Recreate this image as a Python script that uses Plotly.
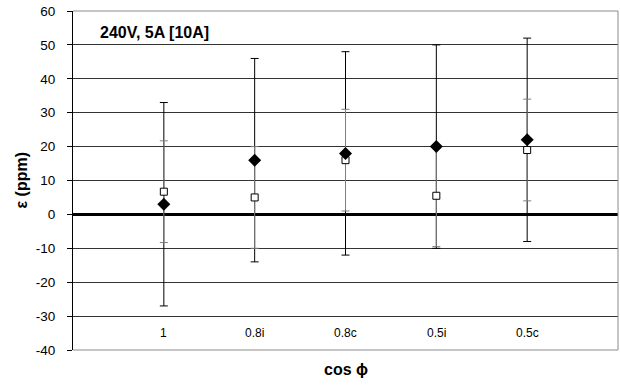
import plotly.graph_objects as go

categories = ["1", "0.8i", "0.8c", "0.5i", "0.5c"]
diamond_vals = [3, 16, 18, 20, 22]
diamond_err = [30, 30, 30, 30, 30]
square_vals = [6.7, 5, 16, 5.5, 19]
square_err = [15, 15, 15, 15, 15]
y_ticks = list(range(-40, 61, 10))
y_ticktext = [str(v) for v in y_ticks]

xpos = list(range(1, len(categories) + 1))

fig = go.Figure()
# error bars (black, then gray on top)
fig.add_trace(go.Scatter(
    x=xpos, y=diamond_vals, mode="markers",
    marker=dict(size=1, color="rgba(0,0,0,0)"),
    error_y=dict(type="data", array=diamond_err, visible=True, color="black", thickness=1, width=4),
    showlegend=False, hoverinfo="skip"))
fig.add_trace(go.Scatter(
    x=xpos, y=square_vals, mode="markers",
    marker=dict(size=1, color="rgba(0,0,0,0)"),
    error_y=dict(type="data", array=square_err, visible=True, color="#7f7f7f", thickness=1, width=4),
    showlegend=False, hoverinfo="skip"))
# markers
fig.add_trace(go.Scatter(
    x=xpos, y=square_vals, mode="markers",
    marker=dict(symbol="square", size=7, color="white", line=dict(color="black", width=1)),
    showlegend=False))
fig.add_trace(go.Scatter(
    x=xpos, y=diamond_vals, mode="markers",
    marker=dict(symbol="diamond", size=10, color="black", line=dict(width=0)),
    showlegend=False))

font = "Liberation Sans, Arial, sans-serif"

annotations = []
for xi, c in zip(xpos, categories):
    annotations.append(dict(x=xi, y=-35, xref="x", yref="y", text=c, showarrow=False,
                            font=dict(size=12, color="black", family=font)))
annotations.append(dict(x=0.046, y=53.8, xref="paper", yref="y", text="<b>240V, 5A [10A]</b>",
                        xanchor="left", yanchor="middle", showarrow=False,
                        font=dict(size=16, color="black", family=font)))
annotations.append(dict(x=-0.113, y=0.5, xref="paper", yref="paper", text="<b>ε (ppm)</b>",
                        textangle=-90, showarrow=False,
                        font=dict(size=16, color="black", family=font)))
annotations.append(dict(x=0.5, y=(350 - 380) / 339, xref="paper", yref="paper", text="<b>cos ϕ</b>",
                        showarrow=False, font=dict(size=16, color="black", family=font)))

fig.update_layout(
    width=620, height=392,
    margin=dict(l=73, r=2, t=11, b=42),
    paper_bgcolor="white", plot_bgcolor="white",
    font=dict(family=font, size=13, color="black"),
    xaxis=dict(range=[0, 6], showticklabels=False, showgrid=False, zeroline=False,
               ticks="", showline=False),
    yaxis=dict(range=[-40, 60], tickvals=y_ticks, ticktext=y_ticktext,
               showgrid=True, gridcolor="#333333", gridwidth=1,
               zeroline=True, zerolinecolor="black", zerolinewidth=2.5,
               showline=True, linecolor="black", linewidth=1, ticks="outside", ticklen=5,
               tickcolor="black", ticklabelstandoff=9,
               tickfont=dict(size=13.5, family=font, color="black")),
    annotations=annotations,
    shapes=[
        dict(type="line", xref="paper", yref="paper", x0=0, x1=1, y0=1, y1=1,
             line=dict(color="#8c8c8c", width=1), layer="above"),
        dict(type="line", xref="paper", yref="paper", x0=1, x1=1, y0=0, y1=1,
             line=dict(color="#8c8c8c", width=1), layer="above"),
        dict(type="line", xref="paper", yref="paper", x0=0, x1=1, y0=0, y1=0,
             line=dict(color="#8c8c8c", width=1), layer="above"),
    ],
)

fig.write_html("out.html")
